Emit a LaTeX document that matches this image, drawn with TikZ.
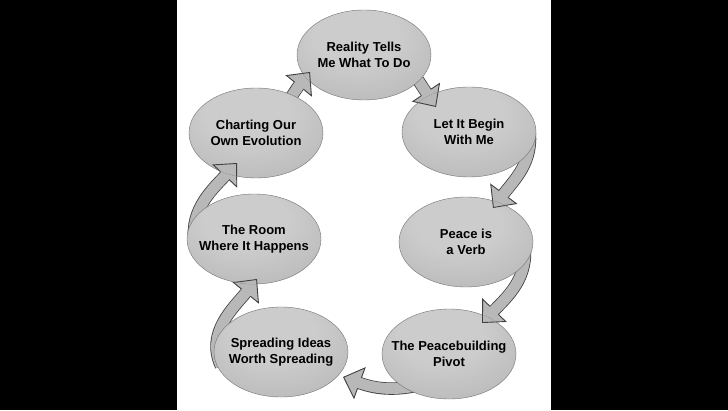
\documentclass[tikz,border=0pt]{standalone}
\usepackage{fontspec}
\setmainfont{Liberation Sans}
\usetikzlibrary{shapes.geometric,arrows.meta,calc}
\pgfdeclarelayer{background}
\pgfsetlayers{background,main}
\definecolor{placelight}{gray}{0.8}
\definecolor{placemid}{gray}{0.69}
\definecolor{placedark}{gray}{0.5}
\definecolor{placeline}{gray}{0.45}
\definecolor{arrowfill}{gray}{0.72}
\definecolor{arrowline}{gray}{0.25}
\pgfdeclareradialshading{placeshade}{\pgfpoint{-4bp}{14bp}}{color(0bp)=(placelight); color(16bp)=(placelight); color(46bp)=(placemid); color(64bp)=(placedark)}
\begin{document}
\begin{tikzpicture}[x=1pt,y=1pt,
  place/.style={ellipse,minimum width=134pt,minimum height=90pt,inner xsep=-12pt,inner ysep=0pt,
    draw=placeline,line width=0.4pt,shade,shading=placeshade,
    align=center,font=\bfseries\fontsize{13pt}{16pt}\selectfont,text=black},
  flow/.style={draw=arrowfill,line width=10.8pt,shorten >=16pt,
    preaction={draw=arrowline,line width=12.4pt,shorten >=0pt,
      -{Triangle[length=18pt,width=34pt,fill=arrowfill,line width=0.9pt]}}}]
\def\flowlist{chart/17/11/51/real/-54/-17/231, real/44/-10/-56/let/-33/25/124,
  let/60/5/-80/peace/27/34/53, peace/58/0/-80/pivot/33/31/46,
  pivot/-25/-30/195/spread/62/-25/-20, spread/-60/-14/115/room/3/-40/231,
  room/-58/-10/105/chart/-19/-30/227}
\begin{pgfonlayer}{background}
\fill[black] (0,0) rectangle (728,410);
\fill[white] (177,0) rectangle (551,410);
\end{pgfonlayer}
\node[place] (real) at (364,355) {Reality Tells\\Me What To Do};
\node[place] (let) at (469,278) {Let It Begin\\With Me};
\node[place] (peace) at (466,168) {Peace is\\a Verb};
\node[place] (pivot) at (449,56) {The Peacebuilding\\Pivot};
\node[place] (spread) at (281,58) {Spreading Ideas\\Worth Spreading};
\node[place] (room) at (254,171) {The Room\\Where It Happens};
\node[place] (chart) at (256,277) {Charting Our\\Own Evolution};
\begin{pgfonlayer}{background}
\foreach \src/\sx/\sy/\ao/\dst/\dx/\dy/\ai in \flowlist
  \draw[flow] ($(\src)+(\sx,\sy)$) to[out=\ao,in=\ai] ($(\dst)+(\dx,\dy)$);
\end{pgfonlayer}
\foreach \src/\sx/\sy/\ao/\dst/\dx/\dy/\ai in \flowlist {
  \begin{scope}
  \clip (\dst) ellipse [x radius=67,y radius=45];
  \draw[flow] ($(\src)+(\sx,\sy)$) to[out=\ao,in=\ai] ($(\dst)+(\dx,\dy)$);
  \end{scope}
}
\end{tikzpicture}
\end{document}
